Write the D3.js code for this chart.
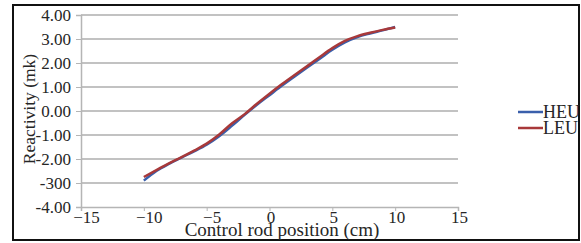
<!DOCTYPE html>
<html>
<head>
<meta charset="utf-8">
<script src="https://cdn.jsdelivr.net/npm/d3@7.9.0/dist/d3.min.js"></script>
<style>
  body { margin: 0; background: #fff; }
  svg text { font-family: "Liberation Serif", "Times New Roman", serif; fill: #262626; }
</style>
</head>
<body>
<svg id="chart" width="581" height="243"></svg>
<script>
// --- data ---
const positions = [-10, -9, -8, -7, -6, -5, -4, -3, -2, -1, 0, 1, 2, 3, 4, 5, 6, 7, 8, 9, 10];
const heu = [-2.9, -2.5, -2.2, -1.94, -1.68, -1.4, -1.05, -0.62, -0.17, 0.26, 0.66, 1.06, 1.44, 1.81, 2.18, 2.55, 2.86, 3.08, 3.23, 3.36, 3.5];
const leu = [-2.75, -2.46, -2.18, -1.92, -1.65, -1.36, -0.98, -0.52, -0.14, 0.3, 0.72, 1.12, 1.5, 1.87, 2.25, 2.62, 2.92, 3.12, 3.26, 3.38, 3.48];
const xTicks = [-15, -10, -5, 0, 5, 10, 15];
const yTicks = [4, 3, 2, 1, 0, -1, -2, -3, -4];
const yTickLabels = ['4.00', '3.00', '2.00', '1.00', '0.00', '-1.00', '-2.00', '-300', '-4.00'];
const seriesNames = ['HEU', 'LEU'];
const seriesColors = ['#3a5fab', '#a8393a'];

const svg = d3.select('#chart');

// outer frame
svg.append('rect')
  .attr('x', 13).attr('y', 5)
  .attr('width', 566).attr('height', 235)
  .attr('fill', 'none').attr('stroke', '#111').attr('stroke-width', 2);

const x = d3.scaleLinear().domain([-15, 15]).range([81, 458]);
const y = d3.scaleLinear().domain([-4, 4]).range([207, 15]);

// gridlines
svg.append('g')
  .selectAll('line')
  .data(yTicks.filter(d => d !== -4))
  .join('line')
  .attr('x1', x(-15)).attr('x2', x(15))
  .attr('y1', d => y(d)).attr('y2', d => y(d))
  .attr('stroke', '#c2c2c2').attr('stroke-width', 1.8);

// y axis
const yAxis = svg.append('g')
  .attr('transform', `translate(${x(-15)},0)`)
  .call(d3.axisLeft(y).tickValues(yTicks)
    .tickFormat((d, i) => yTickLabels[i]).tickSize(5).tickPadding(5));
yAxis.select('.domain').attr('stroke', '#b5b5b5').attr('stroke-width', 1.5);
yAxis.selectAll('.tick line').attr('stroke', '#b5b5b5');
yAxis.selectAll('.tick text').attr('font-size', 17).attr('dy', '0.34em');

// x axis
const xAxis = svg.append('g')
  .attr('transform', `translate(0,${y(-4)})`)
  .call(d3.axisBottom(x).tickValues(xTicks).tickSize(4).tickPadding(0));
xAxis.select('.domain').attr('stroke', '#b5b5b5').attr('stroke-width', 1.5);
xAxis.selectAll('.tick line').attr('stroke', '#b5b5b5');
xAxis.selectAll('.tick text').attr('font-size', 17)
  .attr('dx', d => d < 0 ? 5 : 1);

// axis titles
svg.append('text')
  .attr('x', 282).attr('y', 236)
  .attr('text-anchor', 'middle').attr('font-size', 19)
  .text('Control rod position (cm)');

svg.append('text')
  .attr('transform', 'translate(35,109) rotate(-90)')
  .attr('text-anchor', 'middle').attr('font-size', 17.5)
  .text('Reactivity (mk)');

// lines
const line = d3.line()
  .x((d, i) => x(positions[i]))
  .y(d => y(d))
  .curve(d3.curveMonotoneX);

[heu, leu].forEach((vals, i) => {
  svg.append('path')
    .datum(vals)
    .attr('d', line)
    .attr('fill', 'none')
    .attr('stroke', seriesColors[i])
    .attr('stroke-width', 2.5);
});

// legend
seriesNames.forEach((name, i) => {
  const ly = 112 + i * 16;
  svg.append('line')
    .attr('x1', 518).attr('x2', 543)
    .attr('y1', ly).attr('y2', ly)
    .attr('stroke', seriesColors[i]).attr('stroke-width', 2.5);
  svg.append('text')
    .attr('x', 543).attr('y', ly + 6)
    .attr('font-size', 18)
    .text(name);
});
</script>
</body>
</html>
